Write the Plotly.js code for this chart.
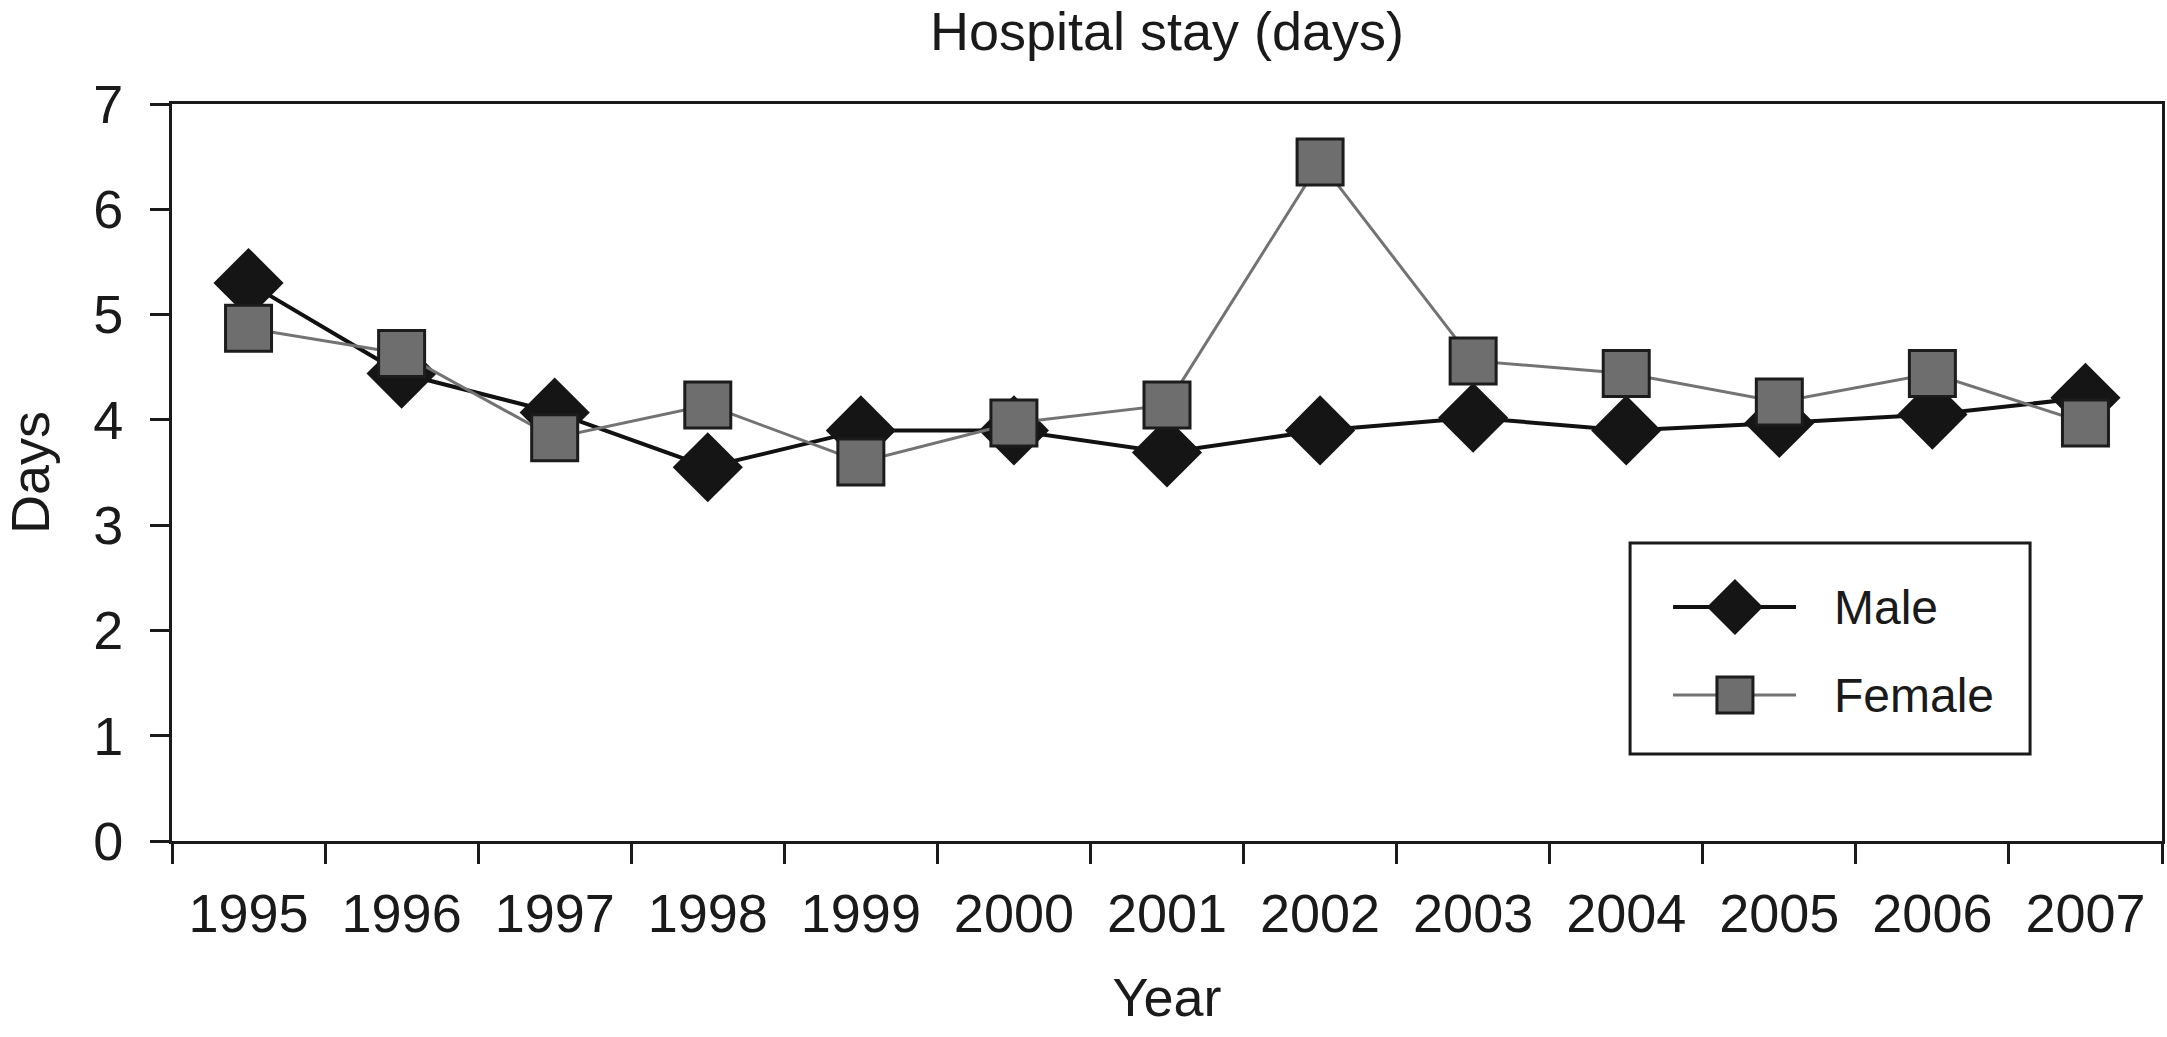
<!DOCTYPE html>
<html>
<head>
<meta charset="utf-8">
<script src="https://cdn.plot.ly/plotly-3.0.1.min.js"></script>
<style>html,body{margin:0;padding:0;background:#fff}#chart{width:2167px;height:1037px}</style>
</head>
<body>
<div id="chart"></div>
<script>
const years = ["1995","1996","1997","1998","1999","2000","2001","2002","2003","2004","2005","2006","2007"];
const maleDays = [5.30, 4.44, 4.07, 3.55, 3.90, 3.90, 3.69, 3.90, 4.02, 3.90, 3.97, 4.05, 4.21];
const femaleDays = [4.87, 4.63, 3.83, 4.14, 3.60, 3.97, 4.14, 6.45, 4.56, 4.44, 4.17, 4.44, 3.97];
const seriesNames = ["Male", "Female"];
const chartTitle = "Hospital stay (days)";
const xTitle = "Year";
const yTitle = "Days";

const FONT = "Liberation Sans, Arial, sans-serif";
const INK = "#1a1a1a";

const traces = [
  {
    x: years, y: maleDays, name: seriesNames[0], type: "scatter", mode: "lines+markers",
    line: {color: "#111111", width: 4},
    marker: {symbol: "diamond", size: 54, color: "#151515", line: {width: 0}},
    showlegend: false, hoverinfo: "x+y+name"
  },
  {
    x: years, y: femaleDays, name: seriesNames[1], type: "scatter", mode: "lines+markers",
    line: {color: "#737373", width: 3},
    marker: {symbol: "square", size: 46, color: "#6e6e6e", line: {width: 3, color: "#1c1c1c"}},
    showlegend: false, hoverinfo: "x+y+name"
  }
];

// custom legend (layout decoration)
const lgX0 = 0.7327, lgX1 = 0.9337, lgY0 = 0.118, lgY1 = 0.4043;
const rowY = [0.3175, 0.1981];
const symX = 0.7854, lineX0 = 0.7543, lineX1 = 0.8161, textX = 0.8342;

const shapes = [
  {type: "rect", xref: "paper", yref: "paper", x0: lgX0, x1: lgX1, y0: lgY0, y1: lgY1,
   line: {color: INK, width: 3}, fillcolor: "#ffffff", layer: "above"},
  {type: "line", xref: "paper", yref: "paper", x0: lineX0, x1: lineX1, y0: rowY[0], y1: rowY[0],
   line: {color: "#111111", width: 4}, layer: "above"},
  {type: "path", xref: "paper", yref: "paper", xsizemode: "pixel", ysizemode: "pixel",
   xanchor: symX, yanchor: rowY[0], path: "M -28 0 L 0 28 L 28 0 L 0 -28 Z",
   fillcolor: "#151515", line: {width: 0}, layer: "above"},
  {type: "line", xref: "paper", yref: "paper", x0: lineX0, x1: lineX1, y0: rowY[1], y1: rowY[1],
   line: {color: "#737373", width: 3}, layer: "above"},
  {type: "rect", xref: "paper", yref: "paper", xsizemode: "pixel", ysizemode: "pixel",
   xanchor: symX, yanchor: rowY[1], x0: -18, x1: 18, y0: -18, y1: 18,
   fillcolor: "#6e6e6e", line: {width: 3, color: "#1c1c1c"}, layer: "above"}
];

const annotations = seriesNames.map((n, i) => ({
  xref: "paper", yref: "paper", x: textX, y: rowY[i], xanchor: "left", yanchor: "middle",
  text: n, showarrow: false, font: {family: FONT, size: 48, color: INK}
}));

const layout = {
  width: 2167, height: 1037,
  paper_bgcolor: "#ffffff", plot_bgcolor: "#ffffff",
  margin: {l: 172, r: 5, t: 104, b: 196, pad: 0},
  font: {family: FONT, size: 54, color: INK},
  title: {text: chartTitle, x: 0.5, xref: "paper", y: 0.970, yref: "container", yanchor: "middle",
          font: {family: FONT, size: 54, color: INK}},
  xaxis: {
    type: "category", range: [-0.5, 12.5], autorange: false,
    tickson: "boundaries", ticks: "outside", ticklen: 20, tickwidth: 3, tickcolor: INK,
    showline: true, linecolor: INK, linewidth: 3, mirror: true, showgrid: false, zeroline: false,
    tickfont: {family: FONT, size: 54, color: INK}, ticklabelstandoff: 23,
    title: {text: xTitle, standoff: 37, font: {family: FONT, size: 54, color: INK}}
  },
  yaxis: {
    range: [0, 7], autorange: false, dtick: 1, ticks: "outside", ticklen: 19, tickwidth: 3, tickcolor: INK,
    showline: true, linecolor: INK, linewidth: 3, mirror: true, showgrid: false, zeroline: false,
    tickfont: {family: FONT, size: 54, color: INK}, ticklabelstandoff: 16,
    title: {text: yTitle, standoff: 32, font: {family: FONT, size: 54, color: INK}}
  },
  showlegend: false,
  shapes: shapes,
  annotations: annotations
};

Plotly.newPlot("chart", traces, layout, {displayModeBar: false, staticPlot: true});
</script>
</body>
</html>
